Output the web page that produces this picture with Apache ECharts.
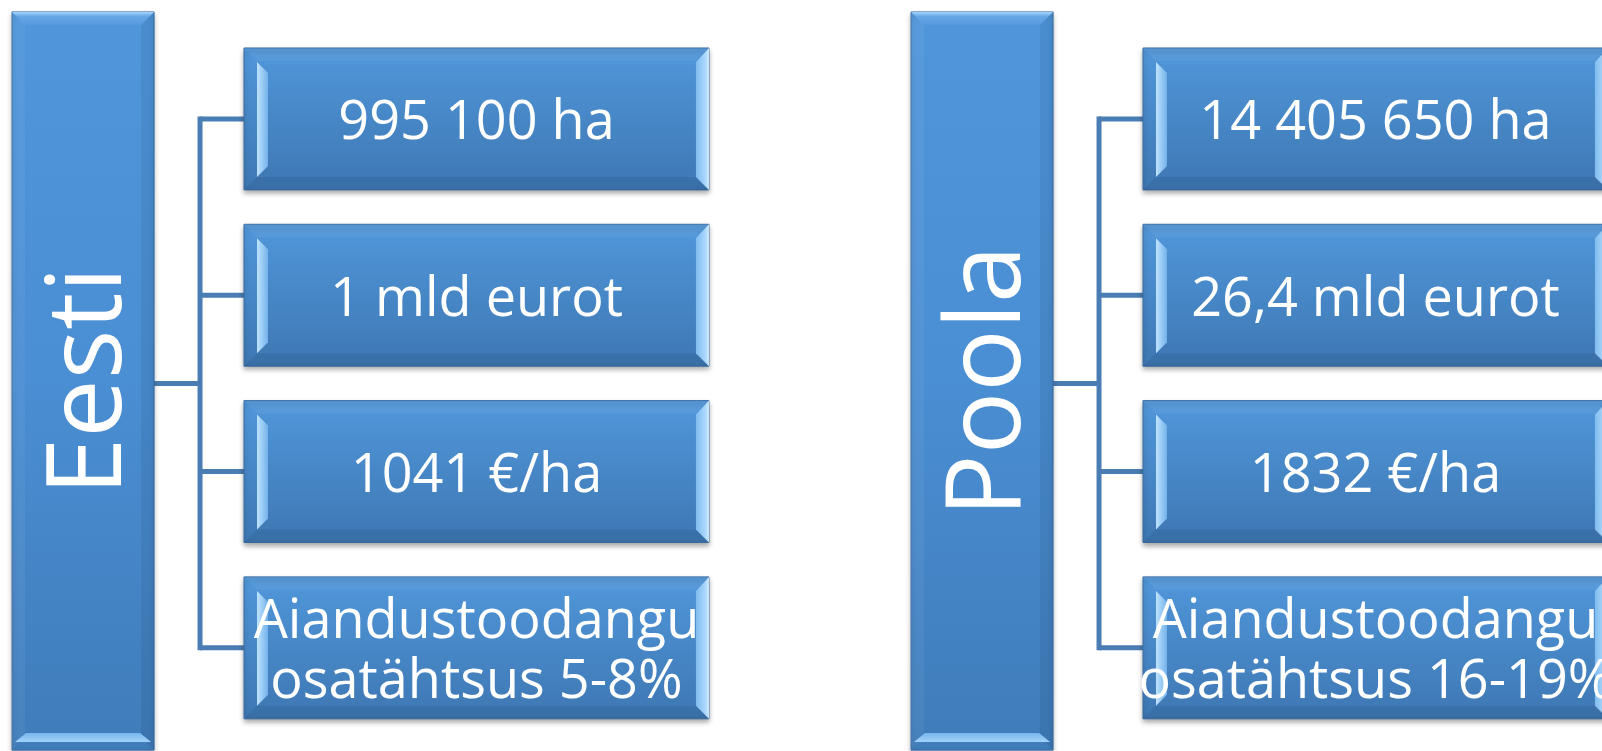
<!DOCTYPE html>
<html><head><meta charset="utf-8">
<script src="https://cdn.jsdelivr.net/npm/echarts@6/dist/echarts.min.js"></script>
<style>html,body{margin:0;padding:0;background:#fff;overflow:hidden}#c{width:1602px;height:751px}</style>
</head><body><div id="c"></div>
<script>
// ---- data ----
const countries = ['Eesti', 'Poola'];
const rows = ['Pindala', 'Toodang', 'Toodang hektari kohta', 'Aianduse osatähtsus'];
const eestiValues = ['995 100 ha', '1 mld eurot', '1041 €/ha', 'Aiandustoodangu\nosatähtsus 5-8%'];
const poolaValues = ['14 405 650 ha', '26,4 mld eurot', '1832 €/ha', 'Aiandustoodangu\nosatähtsus 16-19%'];

const valuesByCountry = [eestiValues, poolaValues];
const childData = [];
valuesByCountry.forEach((vals, ci) => vals.forEach((v, ri) => childData.push([ci, ri, v])));
const countryData = countries.map((c, ci) => [ci, c]);

const LINE = '#4a7db3';
const FONT = '"Open Sans", "Noto Sans", sans-serif';

function lg(x0, y0, x1, y1, stops) {
  return new echarts.graphic.LinearGradient(x0, y0, x1, y1, stops.map((c) => ({offset: c[0], color: c[1]})));
}

function renderChild(params, api) {
  const ci = api.value(0), ri = api.value(1);
  const c = api.coord([ci, ri]);
  const s = api.size([1, 1]);
  const band = s[0], rh = s[1];
  const x0 = c[0];
  const bx = x0 + band * 0.2714, w = band * 0.5172;
  const h = rh * 0.805, by = c[1] - h / 2;
  const vx = x0 + band * 0.2225;
  const txt = childData[params.dataIndex][2];
  return {
    type: 'group',
    children: [
      {type: 'line', shape: {x1: vx, y1: c[1], x2: bx, y2: c[1]}, style: {stroke: LINE, lineWidth: 5}},
      {type: 'rect', shape: {x: bx, y: by, width: w, height: h},
        style: {fill: lg(0, 0, 0, 1, [[0, '#5097da'], [1, '#3e77b3']]), stroke: '#3a6da3', lineWidth: 1,
          shadowBlur: 5, shadowOffsetY: 3, shadowColor: 'rgba(0,0,0,0.35)'}},
      {type: 'polygon', shape: {points: [[bx, by], [bx + w, by], [bx + w - 13, by + 13], [bx + 13, by + 13]]},
        style: {fill: 'rgba(255,255,255,0.05)'}},
      {type: 'polygon', shape: {points: [[bx, by + h], [bx + w, by + h], [bx + w - 13, by + h - 13], [bx + 13, by + h - 13]]},
        style: {fill: 'rgba(0,0,0,0.07)'}},
      {type: 'polygon', shape: {points: [[bx + 13, by + 14], [bx + 24, by + 25], [bx + 24, by + h - 24], [bx + 13, by + h - 13]]},
        style: {fill: lg(0, 0, 1, 0, [[0, '#bfe3ff'], [1, '#73b2ea']])}},
      {type: 'polygon', shape: {points: [[bx + w, by], [bx + w, by + h], [bx + w - 13, by + h - 13], [bx + w - 13, by + 14]]},
        style: {fill: lg(0, 0, 1, 0, [[0, '#7fbcf0'], [0.7, '#a9d6fb'], [1, '#d2ecff']])}},
      {type: 'text', x: bx + w / 2, y: c[1] + 5,
        style: {text: txt, fill: '#ffffff', fontSize: 54, fontFamily: FONT, align: 'center', verticalAlign: 'middle', lineHeight: 60}}
    ]
  };
}

function renderCountry(params, api) {
  const ci = api.value(0);
  const c0 = api.coord([ci, 0]);
  const cN = api.coord([ci, rows.length - 1]);
  const s = api.size([1, 1]);
  const band = s[0], rh = s[1];
  const x0 = c0[0];
  const bx = x0 + band * 0.0134, w = band * 0.158;
  const by = c0[1] - rh * 0.607, by2 = cN[1] + rh * 0.58;
  const h = by2 - by;
  const vx = x0 + band * 0.2225;
  const midY = (c0[1] + cN[1]) / 2;
  const name = countryData[params.dataIndex][1];
  return {
    type: 'group',
    children: [
      {type: 'line', shape: {x1: vx, y1: c0[1], x2: vx, y2: cN[1]}, style: {stroke: LINE, lineWidth: 5, lineCap: 'square'}},
      {type: 'line', shape: {x1: bx + w, y1: midY, x2: vx, y2: midY}, style: {stroke: LINE, lineWidth: 5}},
      {type: 'rect', shape: {x: bx, y: by, width: w, height: h},
        style: {fill: lg(0, 0, 0, 1, [[0, '#4f96db'], [0.5, '#4a8ed3'], [1, '#3f7cba']]), stroke: '#3a6da3', lineWidth: 1,
          shadowBlur: 5, shadowOffsetY: 3, shadowColor: 'rgba(0,0,0,0.3)'}},
      {type: 'polygon', shape: {points: [[bx, by], [bx + w, by], [bx + w - 13, by + 13], [bx + 13, by + 13]]},
        style: {fill: lg(0, 0, 0, 1, [[0, '#a6d4fb'], [0.35, '#66a8e6'], [1, '#5699de']])}},
      {type: 'polygon', shape: {points: [[bx, by], [bx + 13, by + 13], [bx + 13, by2 - 13], [bx, by2]]},
        style: {fill: 'rgba(255,255,255,0.05)'}},
      {type: 'polygon', shape: {points: [[bx + w, by], [bx + w - 13, by + 13], [bx + w - 13, by2 - 13], [bx + w, by2]]},
        style: {fill: 'rgba(0,0,0,0.06)'}},
      {type: 'polygon', shape: {points: [[bx + 3, by2 - 8], [bx + w - 3, by2 - 8], [bx + w - 14, by2 - 17], [bx + 14, by2 - 17]]},
        style: {fill: lg(0, 0, 0, 1, [[0, '#78b6ee'], [1, '#a2d2fb']])}},
      {type: 'text', x: bx + w / 2 + 8, y: (by + by2) / 2, rotation: Math.PI / 2,
        style: {text: name, fill: '#ffffff', fontSize: 104, fontFamily: FONT, align: 'center', verticalAlign: 'middle'}}
    ]
  };
}

const chart = echarts.init(document.getElementById('c'), null, {renderer: 'canvas'});
chart.setOption({
  animation: false,
  backgroundColor: '#ffffff',
  grid: {left: 0, top: 30.8, width: 1602, height: 705.2},
  xAxis: {type: 'value', min: 0, max: 1602 / 899, show: false},
  yAxis: {type: 'category', data: rows, inverse: true, show: false},
  series: [
    {type: 'custom', renderItem: renderCountry, data: countryData, encode: {x: 0}, clip: false, z: 1},
    {type: 'custom', renderItem: renderChild, data: childData, encode: {x: 0, y: 1}, clip: false, z: 2}
  ]
});
</script>
</body></html>
